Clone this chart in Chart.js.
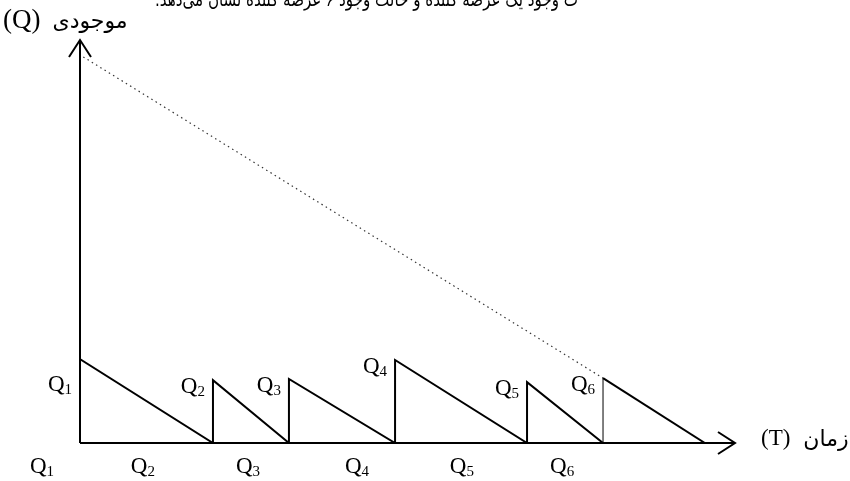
<!DOCTYPE html>
<html>
<head>
<meta charset="utf-8">
<script src="https://cdn.jsdelivr.net/npm/chart.js@4"></script>
<style>
  html, body { margin: 0; padding: 0; background: #fff; }
  #wrap { width: 850px; height: 481px; position: relative; }
</style>
</head>
<body>
<div id="wrap"><canvas id="chart"></canvas></div>
<script>
// order times (T) and inventory level right after each order (Q)
const orderTimes = [0, 4.06, 6.38, 9.62, 13.65, 15.97];
const orderLevels = [20.8, 15.6, 15.9, 20.6, 15.1, 16.1];
const cycleEnd = 19.08;
// single-supplier case, dotted line
const singleSupplierT = [0.1, 15.97];
const singleSupplierQ = [95.8, 16.1];
// labels
const peakLabels = ['1', '2', '3', '4', '5', '6'];
const bottomLabels = ['1', '2', '3', '4', '5', '6'];
const bottomLabelT = [-1.16, 1.92, 5.13, 8.46, 11.66, 14.72];
const yTitle = ['(Q)', 'موجودی'];
const xTitle = ['(T)', 'زمان'];
const caption = 'ت وجود یک عرضه کننده و حالت وجود ۶ عرضه کننده نشان می‌دهد.';

const axisMaxT = 20;
const axisMaxQ = 100;

const sawPoints = [];
orderTimes.forEach((t, i) => {
    sawPoints.push({ x: t, y: 0 });
    sawPoints.push({ x: t, y: orderLevels[i] });
});
sawPoints.push({ x: cycleEnd, y: 0 });

const dottedPoints = singleSupplierT.map((t, i) => ({ x: t, y: singleSupplierQ[i] }));

const SERIF = '"Liberation Serif", "DejaVu Serif", serif';
const PERSIAN = '"DejaVu Sans", sans-serif';

function drawQ(ctx, x, y, sub, align) {
    ctx.save();
    ctx.fillStyle = '#000';
    ctx.textBaseline = 'middle';
    ctx.font = '23px ' + SERIF;
    const qw = ctx.measureText('Q').width;
    ctx.font = '15px ' + SERIF;
    const sw = ctx.measureText(sub).width;
    const total = qw + sw;
    let left = x;
    if (align === 'right') left = x - total;
    if (align === 'center') left = x - total / 2;
    ctx.textAlign = 'left';
    ctx.font = '23px ' + SERIF;
    ctx.fillText('Q', left, y);
    ctx.font = '15px ' + SERIF;
    ctx.fillText(sub, left + qw, y + 5);
    ctx.restore();
}

// latin part left, persian word right
function drawTitle(ctx, parts, x, y, latinSize, persianSize, gap) {
    ctx.save();
    ctx.fillStyle = '#000';
    ctx.textBaseline = 'middle';
    ctx.textAlign = 'left';
    ctx.font = latinSize + 'px ' + SERIF;
    ctx.fillText(parts[0], x, y);
    const w = ctx.measureText(parts[0]).width;
    ctx.direction = 'rtl';
    ctx.textAlign = 'left';
    ctx.font = persianSize + 'px ' + PERSIAN;
    ctx.fillText(parts[1], x + w + gap, y + 1);
    ctx.restore();
}

const decorations = {
    id: 'decorations',
    afterDatasetsDraw(chart) {
        const ctx = chart.ctx;
        const xs = chart.scales.x, ys = chart.scales.y;
        const x0 = xs.getPixelForValue(0), y0 = ys.getPixelForValue(0);
        const xEnd = xs.getPixelForValue(axisMaxT), yEnd = ys.getPixelForValue(axisMaxQ);

        ctx.save();
        ctx.strokeStyle = '#000';
        ctx.lineWidth = 2;
        // axes
        ctx.beginPath();
        ctx.moveTo(x0, y0);
        ctx.lineTo(xEnd, y0);
        ctx.moveTo(x0, y0);
        ctx.lineTo(x0, yEnd);
        ctx.stroke();
        // arrow heads
        ctx.beginPath();
        ctx.moveTo(xEnd - 17, y0 - 11);
        ctx.lineTo(xEnd, y0);
        ctx.lineTo(xEnd - 17, y0 + 11);
        ctx.moveTo(x0 - 11, yEnd + 17);
        ctx.lineTo(x0, yEnd);
        ctx.lineTo(x0 + 11, yEnd + 17);
        ctx.stroke();
        ctx.restore();

        // peak labels, left of each order
        orderTimes.forEach((t, i) => {
            const px = xs.getPixelForValue(t) - 8;
            const py = ys.getPixelForValue(orderLevels[i]) + (i === 0 ? 26 : 7);
            drawQ(ctx, px, py, peakLabels[i], 'right');
        });
        // labels under the time axis
        bottomLabelT.forEach((t, i) => {
            drawQ(ctx, xs.getPixelForValue(t), y0 + 24, bottomLabels[i], 'center');
        });

        // axis titles
        drawTitle(ctx, yTitle, 3, 21, 27, 22, 12);
        drawTitle(ctx, xTitle, 761, y0 - 4, 23, 22, 13);

        // cut-off caption line at the very top, squeezed to its width
        ctx.save();
        ctx.fillStyle = '#000';
        ctx.direction = 'rtl';
        ctx.textAlign = 'right';
        ctx.textBaseline = 'alphabetic';
        ctx.font = '20px ' + PERSIAN;
        ctx.fillText(caption, 578, 6, 423);
        ctx.restore();
    }
};

new Chart(document.getElementById('chart'), {
    type: 'scatter',
    data: {
        datasets: [{
            label: 'single supplier',
            data: dottedPoints,
            showLine: true,
            borderColor: '#333',
            borderWidth: 1.2,
            borderDash: [1.5, 3.5],
            pointRadius: 0
        }, {
            label: 'six suppliers',
            data: sawPoints,
            showLine: true,
            borderColor: '#000',
            borderWidth: 2,
            pointRadius: 0,
            segment: {
                borderWidth: ctx => (ctx.p0DataIndex === 10 ? 1 : 2)
            }
        }]
    },
    plugins: [decorations],
    options: {
        responsive: true,
        maintainAspectRatio: false,
        animation: false,
        layout: { padding: { left: 80, right: 115, top: 40, bottom: 38 } },
        plugins: {
            legend: { display: false },
            tooltip: { enabled: false }
        },
        scales: {
            x: { type: 'linear', display: false, min: 0, max: axisMaxT },
            y: { type: 'linear', display: false, min: 0, max: axisMaxQ }
        }
    }
});
</script>
</body>
</html>
